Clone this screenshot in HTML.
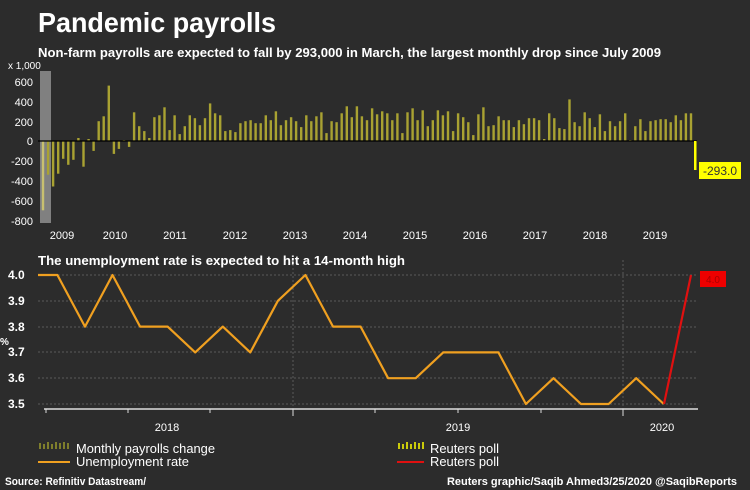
<!DOCTYPE html>
<html><head><meta charset="utf-8"><style>
html,body{margin:0;padding:0;background:#2c2c2c;}
svg{display:block;font-family:"Liberation Sans",sans-serif;}
</style></head><body>
<svg id="s" width="750" height="490" viewBox="0 0 750 490" xmlns="http://www.w3.org/2000/svg">
<rect width="750" height="490" fill="#2c2c2c"/>
<text x="38" y="32" font-size="28" font-weight="bold" fill="#fff" textLength="238" lengthAdjust="spacingAndGlyphs">Pandemic payrolls</text>
<text x="38" y="57" font-size="13" font-weight="bold" fill="#fff" textLength="623" lengthAdjust="spacingAndGlyphs">Non-farm payrolls are expected to fall by 293,000 in March, the largest monthly drop since July 2009</text>
<text x="8" y="69" font-size="10" fill="#fff">x 1,000</text>
<rect x="40" y="71" width="11" height="152" fill="#808080"/>
<g font-size="11" fill="#fff" text-anchor="end">
<text x="33" y="86">600</text><text x="33" y="106">400</text><text x="33" y="126">200</text>
<text x="33" y="145">0</text><text x="33" y="165">-200</text><text x="33" y="185">-400</text>
<text x="33" y="205">-600</text><text x="33" y="225">-800</text>
</g>
<g id="bars"></g>
<line x1="38" y1="141" x2="697" y2="141" stroke="#000" stroke-width="1.2"/>
<rect x="694" y="141" width="2.5" height="29" fill="#ffff00"/>
<rect x="699" y="162" width="42" height="17" fill="#ffff00"/>
<text x="720" y="175" font-size="12" fill="#333" text-anchor="middle">-293.0</text>
<g font-size="11" fill="#fff" text-anchor="middle">
<text x="62" y="239">2009</text><text x="115" y="239">2010</text><text x="175" y="239">2011</text>
<text x="235" y="239">2012</text><text x="295" y="239">2013</text><text x="355" y="239">2014</text>
<text x="415" y="239">2015</text><text x="475" y="239">2016</text><text x="535" y="239">2017</text>
<text x="595" y="239">2018</text><text x="655" y="239">2019</text>
</g>
<text x="38" y="265" font-size="13" font-weight="bold" fill="#fff" textLength="367" lengthAdjust="spacingAndGlyphs">The unemployment rate is expected to hit a 14-month high</text>
<g stroke="#5a5a5a" stroke-dasharray="2,2" stroke-width="1">
<line x1="38" y1="275" x2="698" y2="275"/><line x1="38" y1="301" x2="698" y2="301"/>
<line x1="38" y1="327" x2="698" y2="327"/><line x1="38" y1="352" x2="698" y2="352"/>
<line x1="38" y1="378" x2="698" y2="378"/><line x1="38" y1="404" x2="698" y2="404"/>
<line x1="293" y1="260" x2="293" y2="409"/><line x1="623" y1="260" x2="623" y2="409"/>
</g>
<g font-size="12" fill="#fff" font-weight="bold">
<text x="8" y="279">4.0</text><text x="8" y="305">3.9</text><text x="8" y="331">3.8</text>
<text x="8" y="356">3.7</text><text x="8" y="382">3.6</text><text x="8" y="408">3.5</text>
<text x="0" y="345" font-size="10">%</text>
</g>
<line x1="44" y1="409" x2="698" y2="409" stroke="#ddd" stroke-width="1.5"/>
<g stroke="#ddd" stroke-width="1">
<line x1="46" y1="409" x2="46" y2="413"/><line x1="128" y1="409" x2="128" y2="413"/>
<line x1="210" y1="409" x2="210" y2="413"/><line x1="293" y1="409" x2="293" y2="416"/>
<line x1="375" y1="409" x2="375" y2="413"/><line x1="458" y1="409" x2="458" y2="413"/>
<line x1="541" y1="409" x2="541" y2="413"/><line x1="623" y1="409" x2="623" y2="416"/>
</g>
<g font-size="11" fill="#fff" text-anchor="middle">
<text x="167" y="431">2018</text><text x="458" y="431">2019</text><text x="662" y="431">2020</text>
</g>
<polyline id="ur" fill="none" stroke="#f0a020" stroke-width="2.2" stroke-linejoin="round"/>
<line x1="664" y1="404" x2="691" y2="275" stroke="#e01010" stroke-width="2.2"/>
<rect x="700" y="271" width="26" height="16" fill="#ee0000"/>
<text x="713" y="283" font-size="10" fill="#a00" text-anchor="middle">4.0</text>
<g>
<g stroke="#9a9a2c" stroke-width="1.5"><line x1="40" y1="449" x2="40" y2="443"/><line x1="44" y1="449" x2="44" y2="444"/><line x1="48" y1="449" x2="48" y2="442"/><line x1="52" y1="449" x2="52" y2="444"/><line x1="56" y1="449" x2="56" y2="442"/><line x1="60" y1="449" x2="60" y2="443"/><line x1="64" y1="449" x2="64" y2="442"/><line x1="68" y1="449" x2="68" y2="443"/></g>
<line x1="38" y1="462" x2="70" y2="462" stroke="#f0a020" stroke-width="2"/>
<g stroke="#ffff00" stroke-width="1.5"><line x1="399" y1="449" x2="399" y2="443"/><line x1="403" y1="449" x2="403" y2="444"/><line x1="407" y1="449" x2="407" y2="442"/><line x1="411" y1="449" x2="411" y2="444"/><line x1="415" y1="449" x2="415" y2="442"/><line x1="419" y1="449" x2="419" y2="443"/><line x1="423" y1="449" x2="423" y2="442"/></g>
<line x1="397" y1="462" x2="424" y2="462" stroke="#e01010" stroke-width="2"/>
<g font-size="13" fill="#fff">
<text x="76" y="453" textLength="139" lengthAdjust="spacingAndGlyphs">Monthly payrolls change</text>
<text x="76" y="466" textLength="113" lengthAdjust="spacingAndGlyphs">Unemployment rate</text>
<text x="430" y="453" textLength="69" lengthAdjust="spacingAndGlyphs">Reuters poll</text>
<text x="430" y="466" textLength="69" lengthAdjust="spacingAndGlyphs">Reuters poll</text>
</g>
<g font-size="11" fill="#fff" font-weight="bold">
<text x="5" y="485" textLength="141" lengthAdjust="spacingAndGlyphs">Source: Refinitiv Datastream/</text>
<text x="447" y="485" textLength="290" lengthAdjust="spacingAndGlyphs">Reuters graphic/Saqib Ahmed3/25/2020 @SaqibReports</text>
</g>
</g>
</svg>
<script>
var v=[-700,-340,-460,-330,-180,-240,-190,30,-260,20,-100,200,250,560,-130,-80,10,-60,290,150,100,30,240,260,340,110,260,70,150,260,230,160,230,380,280,260,100,110,90,180,200,210,180,180,260,210,300,160,210,240,200,140,260,200,250,290,80,200,190,280,350,240,350,250,210,330,270,
300,280,210,280,80,290,330,210,310,150,210,310,260,300,100,280,240,190,60,270,340,150,160,250,210,210,140,210,170,230,230,210,20,280,230,130,120,420,190,150,290,230,140,270,100,200,150,200,280,10,150,220,100,200,210,220,220,190,260,210,280,280];
var g=document.getElementById('bars'),ns='http://www.w3.org/2000/svg',n=v.length,st=(691-43)/(n-1);
for(var i=0;i<n;i++){var r=document.createElementNS(ns,'rect'),h=Math.abs(v[i])*0.099,x=43+i*st;
r.setAttribute('x',(x-1.2).toFixed(1));r.setAttribute('width','2.4');
r.setAttribute('y',(v[i]>=0?141-h:141).toFixed(1));r.setAttribute('height',h.toFixed(1));
r.setAttribute('fill',i==0?'#c8c070':'#a9a232');g.appendChild(r);}
var u=[3.8,4.0,3.8,3.8,3.7,3.8,3.7,3.9,4.0,3.8,3.8,3.6,3.6,3.7,3.7,3.7,3.5,3.6,3.5,3.5,3.6,3.5];
var p=['38,275','57.4,275'];
for(var j=0;j<u.length;j++){var xx=57.4+(j+1)*27.56,yy=404-(u[j]-3.5)*258;p.push(xx.toFixed(1)+','+yy.toFixed(1));}
document.getElementById('ur').setAttribute('points',p.join(' '));
</script>
</body></html>
